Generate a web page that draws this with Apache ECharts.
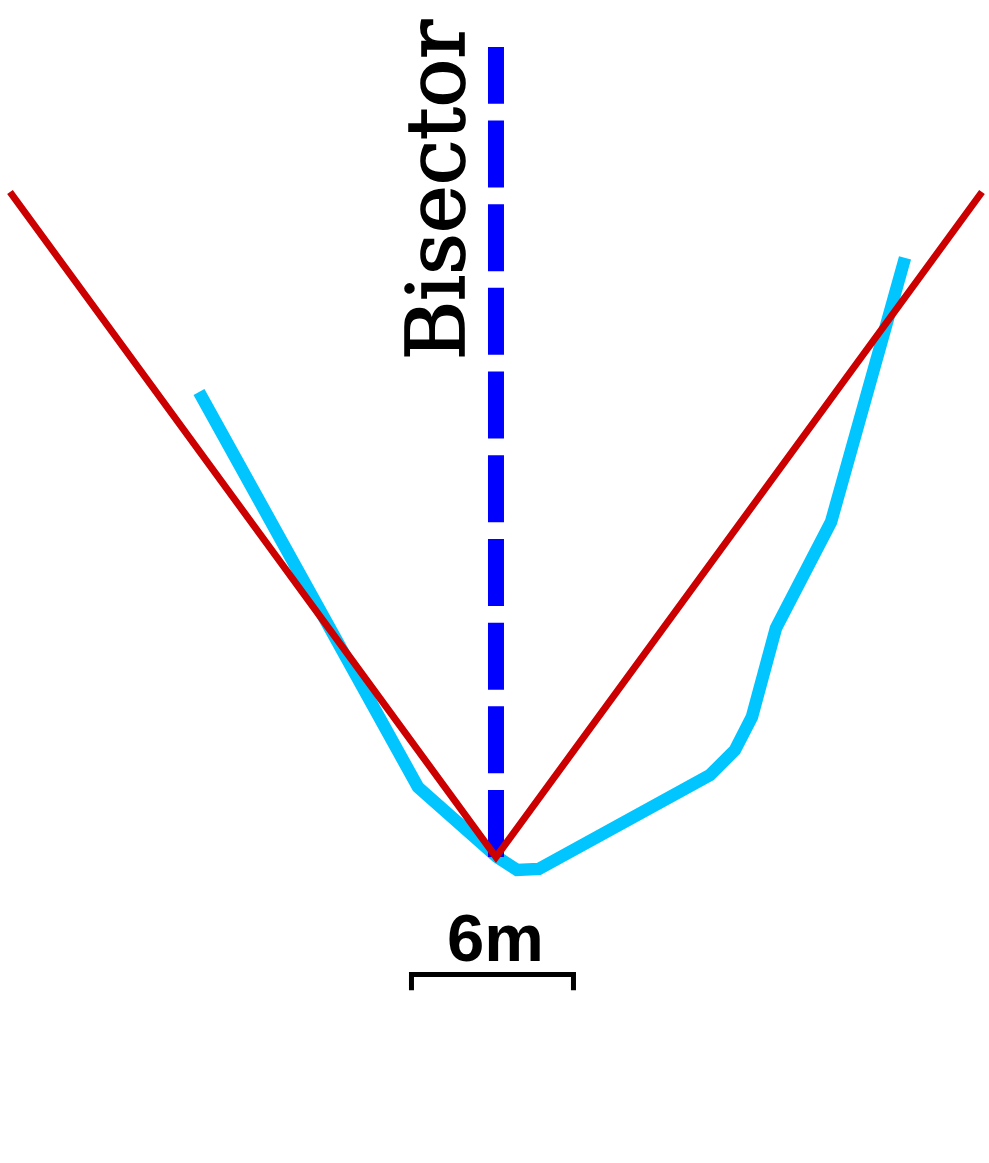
<!DOCTYPE html>
<html>
<head>
<meta charset="utf-8">
<script src="https://cdn.jsdelivr.net/npm/echarts@6/dist/echarts.min.js"></script>
<style>
html,body{margin:0;padding:0;background:#fff;}
#chart{width:989px;height:1163px;}
</style>
</head>
<body>
<div id="chart"></div>
<script>
// Valley cross-section profile (metres, origin at the V vertex)
const profileX = [-11.0, -2.89, 0.04, 0.78, 1.59, 7.93, 8.85, 9.48, 10.37, 12.41, 15.15];
const profileY = [17.22, 2.59, 0.0, -0.48, -0.44, 3.04, 3.96, 5.19, 8.48, 12.41, 22.19];
// Fitted V (two arms meeting at the vertex)
const vX = [-18.0, 0, 18.0];
const vY = [24.63, 0, 24.63];
// Bisector
const bisectorX = [0, 0];
const bisectorY = [0, 30.0];
const bisectorLabel = 'Bisector';
// Scale bar (6 m)
const scaleX = [-3.13, -3.13, 2.87, 2.87];
const scaleY = [-4.93, -4.35, -4.35, -4.93];
const scaleLabel = '6m';

const zip = (xs, ys) => xs.map((x, i) => [x, ys[i]]);

const chart = echarts.init(document.getElementById('chart'), null, {renderer: 'canvas'});
const option = {
  animation: false,
  backgroundColor: '#ffffff',
  grid: {left: 0, right: 0, top: 0, bottom: 0, containLabel: false},
  xAxis: {type: 'value', min: -18.37, max: 18.26, show: false},
  yAxis: {type: 'value', min: -11.33, max: 31.74, show: false},
  series: [
    {
      name: 'profile', type: 'line', data: zip(profileX, profileY),
      symbol: 'none', z: 2,
      lineStyle: {color: '#00C5FF', width: 12.5, cap: 'butt', join: 'miter'}
    },
    {
      name: 'bisector', type: 'line', data: zip(bisectorX, bisectorY),
      symbol: 'none', z: 3,
      lineStyle: {color: '#0000FF', width: 16, type: [67, 16.7], cap: 'butt'}
    },
    {
      name: 'v', type: 'line', data: zip(vX, vY),
      symbol: 'none', z: 4,
      lineStyle: {color: '#CC0000', width: 7, cap: 'butt', join: 'miter'}
    },
    {
      name: 'scale', type: 'line', data: zip(scaleX, scaleY),
      symbol: 'none', z: 4,
      lineStyle: {color: '#000000', width: 5, cap: 'butt', join: 'miter'}
    }
  ]
};
chart.setOption(option);

const bisTop = chart.convertToPixel({gridIndex: 0}, [bisectorX[0], 24.7]);
const scaleMid = chart.convertToPixel({gridIndex: 0}, [(scaleX[1] + scaleX[2]) / 2, scaleY[1]]);
chart.setOption({
  graphic: [
    {
      type: 'text', x: bisTop[0] - 53, y: bisTop[1], rotation: Math.PI / 2, z: 10,
      style: {text: bisectorLabel, fill: '#000', stroke: '#000', lineWidth: 1.6,
              font: '81px "DejaVu Serif"', align: 'center', verticalAlign: 'middle'}
    },
    {
      type: 'text', x: scaleMid[0] + 3, y: scaleMid[1] + 2, z: 10,
      style: {text: scaleLabel, fill: '#000', font: 'bold 67px "Liberation Sans"', align: 'center', verticalAlign: 'bottom'}
    }
  ]
});
</script>
</body>
</html>
